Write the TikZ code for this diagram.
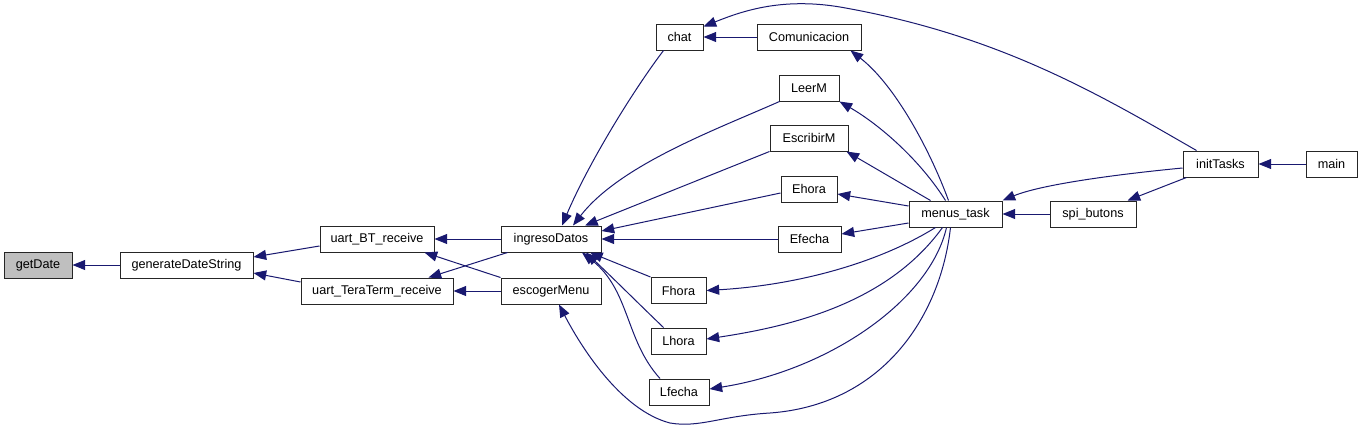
\documentclass[tikz,border=0pt]{standalone}
\usepackage{fontspec}
\setmainfont{Liberation Sans}
\usetikzlibrary{arrows.meta,calc}
\definecolor{edgeblue}{HTML}{191970}
\definecolor{nodegray}{HTML}{BFBFBF}
\begin{document}
\begin{tikzpicture}[x=0.75pt,y=-0.75pt,
  box/.style={draw=black!85, line width=0.75pt, fill=white, inner sep=0pt,
    minimum height=19.5pt, font=\fontsize{9.5}{11}\selectfont},
  bw/.style={minimum width=#1*0.75pt},
  edge/.style={draw=edgeblue, line width=0.75pt,
    -{Triangle[length=9.5pt,width=7.5pt]}}]
\useasboundingbox[fill=white] (0,0) rectangle (1363,429);

% nodes
\node[box,bw=68,fill=nodegray] (getDate) at (38,265) {getDate};
\node[box,bw=133] (generateDateString) at (186.5,265) {generateDateString};
\node[box,bw=114] (uart_BT_receive) at (377,239) {uart\_BT\_receive};
\node[box,bw=152] (uart_TeraTerm_receive) at (377,291) {uart\_TeraTerm\_receive};
\node[box,bw=100] (ingresoDatos) at (551,239) {ingresoDatos};
\node[box,bw=100] (escogerMenu) at (551,291) {escogerMenu};
\node[box,bw=47] (chat) at (679.5,37) {chat};
\node[box,bw=104] (Comunicacion) at (809,37) {Comunicacion};
\node[box,bw=60] (LeerM) at (809,88) {LeerM};
\node[box,bw=78] (EscribirM) at (809,138) {EscribirM};
\node[box,bw=56] (Ehora) at (809,189) {Ehora};
\node[box,bw=63] (Efecha) at (809.5,239) {Efecha};
\node[box,bw=55] (Fhora) at (678.5,290.5) {Fhora};
\node[box,bw=55] (Lhora) at (678.5,341) {Lhora};
\node[box,bw=60] (Lfecha) at (679,392) {Lfecha};
\node[box,bw=93] (menus_task) at (955.5,214) {menus\_task};
\node[box,bw=86] (spi_butons) at (1093,214) {spi\_butons};
\node[box,bw=75] (initTasks) at (1220.5,164) {initTasks};
\node[box,bw=51] (main) at (1331.5,164) {main};

% edges
\draw[edge] (generateDateString) -- (getDate);
\draw[edge] ($(uart_BT_receive.west)+(0,7)$) -- ($(generateDateString.east)+(0,-8)$);
\draw[edge] ($(uart_TeraTerm_receive.west)+(0,-9)$) -- ($(generateDateString.east)+(0,8)$);
\draw[edge] (ingresoDatos) -- (uart_BT_receive);
\draw[edge] (escogerMenu.north west) -- ($(uart_BT_receive.south east)+(-10,0)$);
\draw[edge] ($(ingresoDatos.south west)+(7,0)$) -- ($(uart_TeraTerm_receive.north east)+(-25,0)$);
\draw[edge] (escogerMenu) -- (uart_TeraTerm_receive);
\draw[edge] (Comunicacion) -- (chat);

\draw[edge] ($(chat.south west)+(8,0)$) .. controls (635,88) and (590,160) .. ($(ingresoDatos.north)+(11,0)$);
\draw[edge] ($(LeerM.south west)+(1,0)$) .. controls (715,130) and (620,165) .. ($(ingresoDatos.north)+(22,0)$);
\draw[edge] (EscribirM.south west) -- ($(ingresoDatos.north)+(34,0)$);
\draw[edge] ($(Ehora.west)+(0,4)$) -- ($(ingresoDatos.east)+(0,-8)$);
\draw[edge] (Efecha) -- (ingresoDatos);
\draw[edge] (Fhora.north west) -- ($(ingresoDatos.south)+(39,0)$);
\draw[edge] ($(Lhora.north)+(-15,0)$) .. controls (640,305) and (615,280) .. ($(ingresoDatos.south)+(35,0)$);
\draw[edge] ($(Lfecha.north)+(-19,0)$) .. controls (625,340) and (630,290) .. ($(ingresoDatos.south)+(31,0)$);

\draw[edge] ($(menus_task.north)+(-7,0)$) .. controls (930,150) and (895,85) .. ($(Comunicacion.south east)+(-11,0)$);
\draw[edge] ($(menus_task.north)+(-10,0)$) .. controls (920,160) and (880,125) .. (LeerM.south east);
\draw[edge] ($(menus_task.north)+(-25,0)$) -- ($(EscribirM.south east)+(-2,0)$);
\draw[edge] ($(menus_task.west)+(0,-8)$) -- ($(Ehora.east)+(0,5)$);
\draw[edge] ($(menus_task.west)+(0,9)$) -- ($(Efecha.east)+(0,-5)$);
\draw[edge] ($(menus_task.south)+(-20,0)$) .. controls (880,262) and (800,285) .. (Fhora.east);
\draw[edge] ($(menus_task.south)+(-13,0)$) .. controls (890,300) and (800,325) .. ($(Lhora.east)+(0,-2)$);
\draw[edge] ($(menus_task.south)+(-9,0)$) .. controls (930,300) and (830,370) .. ($(Lfecha.east)+(0,-3)$);
\draw[edge] ($(menus_task.south)+(-5,0)$) .. controls (940,320) and (880,405) .. (770,413)
  .. controls (720,416) and (700,428) .. (670,423)
  .. controls (620,410) and (580,345) .. ($(escogerMenu.south)+(8,0)$);

\draw[edge] ($(initTasks.north west)+(14,0)$) .. controls (1100,95) and (1000,35) .. (840,7)
  .. controls (780,-3) and (740,12) .. ($(chat.north east)+(0,3)$);
\draw[edge] ($(initTasks.west)+(0,4)$) .. controls (1110,175) and (1040,185) .. (menus_task.north east);
\draw[edge] ($(initTasks.south west)+(4,0)$) -- ($(spi_butons.north east)+(-9,0)$);
\draw[edge] (spi_butons) -- (menus_task);
\draw[edge] (main) -- (initTasks);
\end{tikzpicture}
\end{document}
